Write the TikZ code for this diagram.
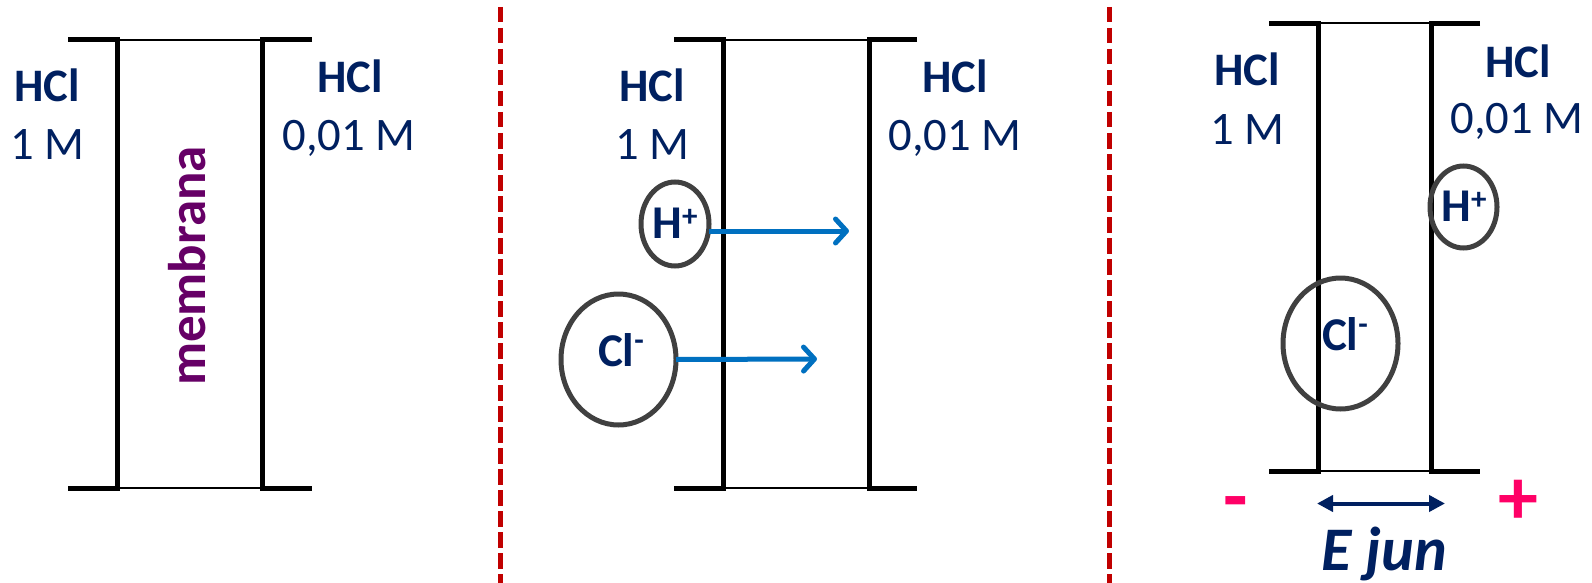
\documentclass[tikz,border=0pt]{standalone}
\usepackage{fontspec}
\setmainfont{Carlito}
\usetikzlibrary{arrows.meta,shapes.geometric}
\definecolor{navy}{HTML}{002060}
\definecolor{membpurple}{HTML}{660066}
\definecolor{flowblue}{HTML}{0070C0}
\definecolor{divred}{HTML}{C00000}
\definecolor{signpink}{HTML}{FF0066}
\definecolor{ringgray}{HTML}{404040}
\tikzset{
  barline/.style={line width=5pt, line join=miter},
  thinline/.style={line width=2pt},
  divider/.style={divred, line width=5pt, dash pattern=on 15.5pt off 5.5pt},
  hcltext/.style={navy, inner sep=0pt, anchor=base, font=\fontsize{46.6}{50}\selectfont\bfseries},
  conctext/.style={navy, inner sep=0pt, anchor=base, font=\fontsize{46.6}{50}\selectfont},
  iontext/.style={navy, inner sep=0pt, anchor=base, font=\fontsize{47}{50}\selectfont\bfseries},
  ionring/.style={ellipse, inner sep=0pt},
  ringline/.style={draw=ringgray, line width=5pt},
  flow/.style={flowblue, line width=5pt, -{Straight Barb[length=11pt,width=24pt,round]}},
  signtext/.style={signpink, inner sep=0pt, anchor=center, font=\fontsize{80}{80}\selectfont\bfseries},
}
\newcommand\plussup{\raisebox{12pt}{\fontsize{31}{31}\selectfont +}}
\newcommand\minussup{\raisebox{16pt}{\fontsize{31}{31}\selectfont -}}
\begin{document}
\begin{tikzpicture}[x=1pt,y=-1pt]
\useasboundingbox (0,0) rectangle (1592,583);

% dividers
\draw[divider] (500,7) -- (500,583);
\draw[divider] (1109,7) -- (1109,583);

% ---------- panel 1 ----------
\draw[thinline] (117,40) rectangle (262,488);
\draw[barline] (68,40) -- (117,40) -- (117,488) -- (68,488);
\draw[barline] (312,40) -- (262,40) -- (262,488) -- (312,488);
\node[hcltext] (hclL1) at (47,102) {HCl};
\node[conctext] (cL1) at (47,160) {1 M};
\node[hcltext] (hclR1) at (350,93) {HCl};
\node[conctext] (cR1) at (349,150) {0,01 M};
\node[membpurple, inner sep=0pt, rotate=90, anchor=center,
      font=\fontsize{53}{56}\selectfont\bfseries] (memb) at (187.5,266) {membrana};

% ---------- panel 2 ----------
\draw[thinline] (723,40) rectangle (869,488);
\draw[barline] (674,40) -- (723,40) -- (723,488) -- (674,488);
\draw[barline] (917,40) -- (869,40) -- (869,488) -- (917,488);
\node[hcltext] (hclL2) at (652,102) {HCl};
\node[conctext] (cL2) at (652,160) {1 M};
\node[hcltext] (hclR2) at (955,93) {HCl};
\node[conctext] (cR2) at (955,150) {0,01 M};

\node[ionring, minimum width=68pt, minimum height=84pt] (hring2) at (675,224) {};
\draw[ringline] (hring2.center) ellipse [x radius=34pt, y radius=42pt];
\node[iontext] (htext2) at (675,238) {H\plussup};
\coordinate (harrowend2) at (849,231);
\draw[flow] (hring2.east |- harrowend2) -- (harrowend2);

\node[ionring, minimum width=115pt, minimum height=131pt] (clring2) at (618.5,359.5) {};
\draw[ringline] (clring2.center) ellipse [x radius=57.5pt, y radius=65.5pt];
\node[iontext] (cltext2) at (621,366) {Cl\minussup};
\coordinate (clarrowend2) at (817,359);
\draw[flow] (clring2.east) -- (clarrowend2);

% ---------- panel 3 ----------
\draw[thinline] (1318,23.5) rectangle (1431,471);
\draw[barline] (1269,23.5) -- (1318,23.5) -- (1318,471) -- (1269,471);
\draw[barline] (1480,23.5) -- (1431,23.5) -- (1431,471) -- (1480,471);
\node[hcltext] (hclL3) at (1247,86) {HCl};
\node[conctext] (cL3) at (1247,144) {1 M};
\node[hcltext] (hclR3) at (1518,78) {HCl};
\node[conctext] (cR3) at (1517,134) {0,01 M};

\node[ionring, minimum width=67pt, minimum height=82pt] (hring3) at (1463.5,207) {};
\draw[ringline] (hring3.center) ellipse [x radius=33.5pt, y radius=41pt];
\node[iontext] (htext3) at (1464,221) {H\plussup};
\node[ionring, minimum width=115pt, minimum height=131pt] (clring3) at (1340.5,343.5) {};
\draw[ringline] (clring3.center) ellipse [x radius=57.5pt, y radius=65.5pt];
\node[iontext] (cltext3) at (1345,350) {Cl\minussup};

\node[signtext] (minus3) at (1236,510) {-};
\node[signtext] (plus3) at (1518.5,502) {+};
\coordinate (ejL) at (1317,503.5);
\coordinate (ejR) at (1445,503.5);
\draw[navy, line width=4pt, {Triangle[length=16pt,width=16pt]}-{Triangle[length=16pt,width=16pt]}] (ejL) -- (ejR);
\node[navy, inner sep=0pt, anchor=base, font=\fontsize{62}{64}\selectfont\bfseries\itshape] (ejun) at (1384,570) {E jun};
\end{tikzpicture}
\end{document}
